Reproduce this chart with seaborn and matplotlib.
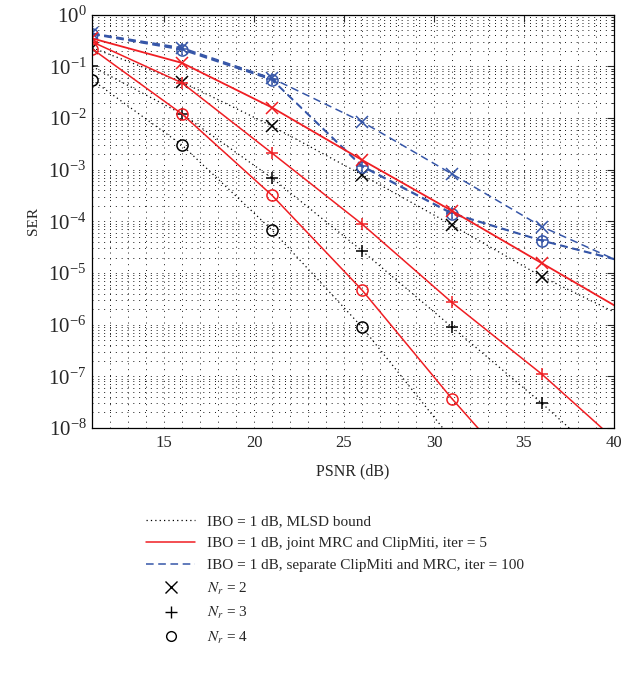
import numpy as np
import pandas as pd
import seaborn as sns
import matplotlib
matplotlib.use("Agg")
import matplotlib.pyplot as plt
from matplotlib.lines import Line2D
from matplotlib.ticker import LogLocator, MultipleLocator, NullFormatter

# data (x = PSNR in dB, values = SER)
psnr = [11, 16, 21, 26, 31, 36, 41]

bound_nr2 = [0.23, 0.05, 7e-3, 8e-4, 8.5e-5, 8.5e-6, 1.2e-6]
bound_nr3 = [0.1, 0.012, 6.9e-4, 2.7e-5, 9e-7, 3e-8, 8e-10]
bound_nr4 = [0.055, 3e-3, 6.8e-5, 9e-7, 6e-9, 3e-11, 1e-13]

joint_nr2 = [0.35, 0.117, 0.016, 1.55e-3, 1.6e-4, 1.55e-5, 1.5e-6]
joint_nr3 = [0.3, 0.048, 2.1e-3, 8.9e-5, 2.7e-6, 1.1e-7, 3e-9]
joint_nr4 = [0.22, 0.012, 3.2e-4, 4.7e-6, 3.7e-8, 4e-10, 4e-12]

sep_nr2 = [0.44, 0.23, 0.059, 8.5e-3, 8.3e-4, 7.9e-5, 1.3e-5]
sep_nr3 = [0.43, 0.22, 0.056, 1.2e-3, 1.45e-4, 4.3e-5, 1.55e-5]
sep_nr4 = [0.42, 0.21, 0.055, 1.15e-3, 1.4e-4, 4.2e-5, 1.5e-5]

x_ticks = [15, 20, 25, 30, 35, 40]
legend_labels = [
    "IBO = 1 dB, MLSD bound",
    "IBO = 1 dB, joint MRC and ClipMiti, iter = 5",
    "IBO = 1 dB, separate ClipMiti and MRC, iter = 100",
    r"$N_r$ = 2",
    r"$N_r$ = 3",
    r"$N_r$ = 4",
]

RED = "#f01e23"
BLUE = "#3656a8"

sns.set_style("white")
plt.rcParams["font.family"] = ["Liberation Serif", "DejaVu Serif"]
plt.rcParams["mathtext.fontset"] = "stix"
plt.rcParams["font.size"] = 11

fig = plt.figure(figsize=(6.22, 6.73), dpi=100)
ax = fig.add_axes([0.148, 0.364, 0.839, 0.614])

markers = {2: "x", 3: "+", 4: "o"}
series = [
    (bound_nr2, 2, "black", (0, (1, 2.5)), 0.9),
    (bound_nr3, 3, "black", (0, (1, 2.5)), 0.9),
    (bound_nr4, 4, "black", (0, (1, 2.5)), 0.9),
    (sep_nr2, 2, BLUE, (0, (5, 3)), 1.1),
    (sep_nr3, 3, BLUE, (0, (5, 3)), 1.1),
    (sep_nr4, 4, BLUE, (0, (5, 3)), 1.1),
    (joint_nr2, 2, RED, "-", 1.3),
    (joint_nr3, 3, RED, "-", 1.1),
    (joint_nr4, 4, RED, "-", 1.1),
]

for vals, nr, col, ls, lw in series:
    df = pd.DataFrame({"PSNR": psnr, "SER": vals})
    sns.lineplot(data=df, x="PSNR", y="SER", ax=ax, color=col, linestyle=ls,
                 linewidth=lw, marker=markers[nr], markersize=9 if nr != 4 else 8,
                 markerfacecolor="none", markeredgecolor=col, markeredgewidth=1.1,
                 sort=False, estimator=None, legend=False)

ax.set_yscale("log")
ax.set_xlim(11, 40)
ax.set_ylim(1e-8, 1)
ax.set_xticks(x_ticks)
ax.xaxis.set_minor_locator(MultipleLocator(1))
ax.yaxis.set_major_locator(LogLocator(base=10, numticks=12))
ax.yaxis.set_minor_locator(LogLocator(base=10, subs=np.arange(2, 10), numticks=12))
ax.yaxis.set_minor_formatter(NullFormatter())

# matlab style dotted grid
ax.grid(True, which="both", color="#1a1a1a", linestyle=(0, (1, 5)), linewidth=0.7)
ax.tick_params(which="both", direction="in", top=True, right=True)
ax.tick_params(axis="x", labelsize=12, pad=5)
ax.tick_params(axis="y", labelsize=15, pad=4)
ax.tick_params(which="major", length=5, width=0.8)
ax.tick_params(which="minor", length=2.5, width=0.6)
ax.tick_params(axis="x", which="minor", length=0)
for s in ax.spines.values():
    s.set_color("black")
    s.set_linewidth(0.9)

ax.set_xlabel("PSNR (dB)", fontsize=11.5, labelpad=9)
ax.set_ylabel("SER", fontsize=11, labelpad=6)

handles = [
    Line2D([], [], color="black", linestyle=(0, (1, 2.5)), linewidth=0.9),
    Line2D([], [], color=RED, linestyle="-", linewidth=1.1),
    Line2D([], [], color=BLUE, linestyle=(0, (5, 3)), linewidth=1.1),
    Line2D([], [], color="black", linestyle="none", marker="x", markersize=8, markeredgewidth=1.0),
    Line2D([], [], color="black", linestyle="none", marker="+", markersize=8, markeredgewidth=1.0),
    Line2D([], [], color="black", linestyle="none", marker="o", markersize=7,
           markerfacecolor="none", markeredgewidth=1.0),
]
fig.legend(handles, legend_labels, loc="upper left", bbox_to_anchor=(0.225, 0.245),
           frameon=False, fontsize=11, handlelength=3.2, handletextpad=0.8,
           labelspacing=0.55, borderaxespad=0)

fig.savefig("out.png", dpi=100)
